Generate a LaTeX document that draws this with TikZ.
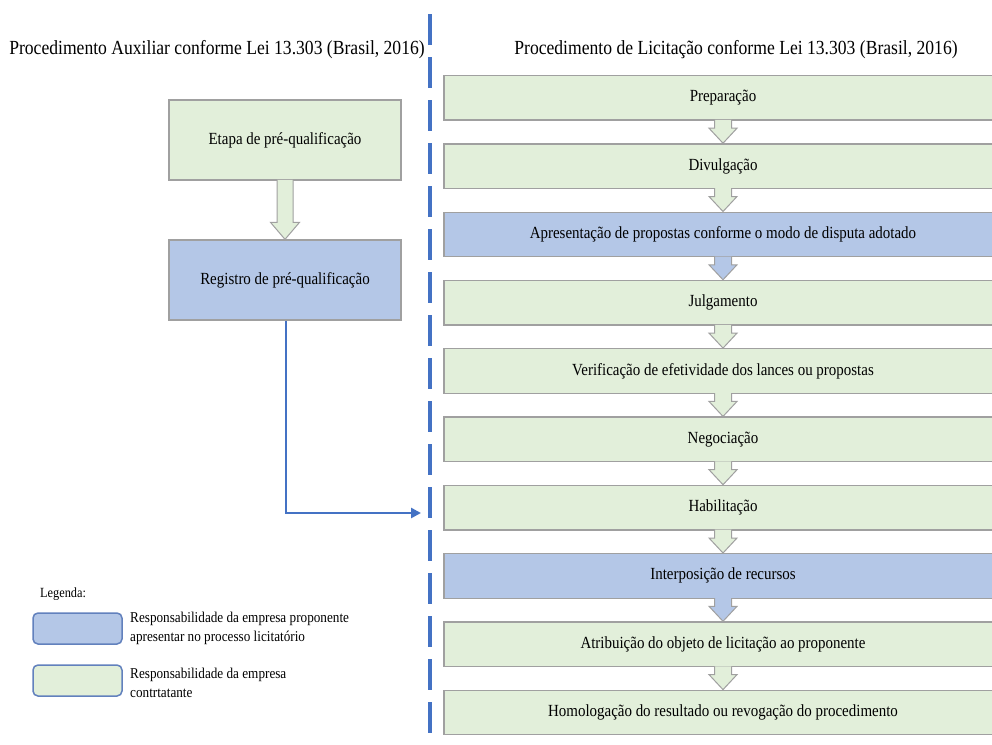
\documentclass[tikz,border=0pt]{standalone}
\usepackage{fontspec}
\setmainfont{Liberation Serif}[FakeStretch=0.88]
\usetikzlibrary{calc,arrows.meta}
\definecolor{gfill}{HTML}{E2EFDA}
\definecolor{bfill}{HTML}{B4C7E7}
\definecolor{bord}{HTML}{A0A0A0}
\definecolor{lineblue}{HTML}{4472C4}
\definecolor{legbord}{HTML}{6281BD}
\newcommand\blockarr[6]{%
  \filldraw[fill=#3, draw=bord, line width=1pt]
    let \p1=(#1.south), \p2=(#2.north) in
    (\x1-#4pt,\y1+0.8pt) -- (\x1-#4pt,\y2+#6pt) -- (\x1-#5pt,\y2+#6pt) -- (\x1,\y2)
    -- (\x1+#5pt,\y2+#6pt) -- (\x1+#4pt,\y2+#6pt) -- (\x1+#4pt,\y1+0.8pt);}
\begin{document}
\begin{tikzpicture}[x=1pt,y=-1pt,
  box/.style={draw=bord, line width=1.3pt, inner sep=0pt, minimum height=44.5pt,
    font=\fontsize{17}{19}\selectfont},
  gbox/.style={box, fill=gfill},
  bbox/.style={box, fill=bfill},
  rbox/.style={minimum width=558pt},
  lbox/.style={minimum width=232pt, minimum height=80pt},
  ttl/.style={font=\fontsize{20}{22}\selectfont, inner sep=0pt},
  legbox/.style={draw=legbord, line width=1.5pt, rounded corners=5pt, minimum width=89pt, minimum height=31pt, inner sep=0pt},
  legtxt/.style={anchor=west, align=left, inner sep=0pt, font=\fontsize{15}{19}\selectfont}]
\useasboundingbox (0,0) rectangle (992,744);
\fill[white] (0,0) rectangle (992,744);

% titles
\node[ttl] (t1) at (217,50) {Procedimento Auxiliar conforme Lei 13.303 (Brasil, 2016)};
\node[ttl] (t2) at (736,50) {Procedimento de Licitação conforme Lei 13.303 (Brasil, 2016)};

% separator
\coordinate (d1) at (430,14);
\coordinate (d2) at (430,744);
\draw[lineblue, line width=3.2pt, dash pattern=on 31pt off 12pt] (d1) -- (d2);

% left boxes
\node[gbox,lbox] (e) at (285,140) {Etapa de pré-qualificação};
\node[bbox,lbox] (r) at (285,280) {Registro de pré-qualificação};
\blockarr{e}{r}{gfill}{8}{14.5}{17}

% right boxes
\node[gbox,rbox] (b1) at (723,97.8) {Preparação};
\node[gbox,rbox] (b2) at (723,166.1) {Divulgação};
\node[bbox,rbox] (b3) at (723,234.4) {Apresentação de propostas conforme o modo de disputa adotado};
\node[gbox,rbox] (b4) at (723,302.7) {Julgamento};
\node[gbox,rbox] (b5) at (723,371.0) {Verificação de efetividade dos lances ou propostas};
\node[gbox,rbox] (b6) at (723,439.3) {Negociação};
\node[gbox,rbox] (b7) at (723,507.6) {Habilitação};
\node[bbox,rbox] (b8) at (723,575.9) {Interposição de recursos};
\node[gbox,rbox] (b9) at (723,644.2) {Atribuição do objeto de licitação ao proponente};
\node[gbox,rbox] (b10) at (723,712.5) {Homologação do resultado ou revogação do procedimento};

\blockarr{b1}{b2}{gfill}{8.5}{14}{15}
\blockarr{b2}{b3}{gfill}{8.5}{14}{15}
\blockarr{b3}{b4}{bfill}{8.5}{14}{15}
\blockarr{b4}{b5}{gfill}{8.5}{14}{15}
\blockarr{b5}{b6}{gfill}{8.5}{14}{15}
\blockarr{b6}{b7}{gfill}{8.5}{14}{15}
\blockarr{b7}{b8}{gfill}{8.5}{14}{15}
\blockarr{b8}{b9}{bfill}{8.5}{14}{15}
\blockarr{b9}{b10}{gfill}{8.5}{14}{15}

% connector
\coordinate (ct) at (421,513);
\draw[lineblue, line width=2.8pt, -{Triangle[length=10pt,width=10pt]}] ([xshift=1pt]r.south) |- (ct);

% legend
\node[anchor=west, inner sep=0pt, font=\fontsize{14}{16}\selectfont] (lg) at (40,594) {Legenda:};
\node[legbox, fill=bfill] (lb) at (77.5,628.5) {};
\node[legbox, fill=gfill] (lgr) at (77.5,680.5) {};
\node[legtxt] (lbt) at (130,628) {Responsabilidade da empresa proponente\\apresentar no processo licitatório};
\node[legtxt] (lgt) at (130,683) {Responsabilidade da empresa\\contrtatante};
\end{tikzpicture}
\end{document}
